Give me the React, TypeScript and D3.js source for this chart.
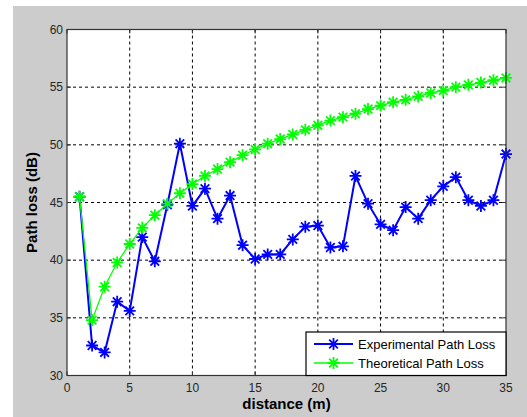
import React from "react";
import * as d3 from "d3";

const distances = [1,2,3,4,5,6,7,8,9,10,11,12,13,14,15,16,17,18,19,20,21,22,23,24,25,26,27,28,29,30,31,32,33,34,35];
const experimental = [45.5,32.6,32.0,36.4,35.6,42.0,39.9,44.8,50.1,44.7,46.2,43.6,45.6,41.3,40.1,40.5,40.5,41.8,42.9,43.0,41.1,41.2,47.3,44.9,43.1,42.6,44.6,43.6,45.2,46.4,47.2,45.2,44.7,45.2,49.2];
const theoretical = [45.5,34.8,37.7,39.8,41.4,42.8,43.9,44.9,45.8,46.6,47.3,47.9,48.5,49.1,49.6,50.1,50.5,50.9,51.3,51.7,52.1,52.4,52.7,53.1,53.4,53.7,53.9,54.2,54.5,54.7,55.0,55.2,55.4,55.6,55.8];
const xTicks = [0,5,10,15,20,25,30,35];
const yTicks = [30,35,40,45,50,55,60];
const seriesNames = ["Experimental Path Loss", "Theoretical Path Loss"];

const W = 527, H = 417;
const L = 67, R = 506, T = 29.5, B = 375.5;

function star(cx: number, cy: number, r: number) {
  const d = r * 0.72;
  return `M${cx - r},${cy}L${cx + r},${cy}M${cx},${cy - r}L${cx},${cy + r}M${cx - d},${cy - d}L${cx + d},${cy + d}M${cx - d},${cy + d}L${cx + d},${cy - d}`;
}

export default function App() {
  const x = d3.scaleLinear().domain([0, 35]).range([L, R]);
  const y = d3.scaleLinear().domain([30, 60]).range([B, T]);
  const line = d3.line<number>().x((_, i) => x(distances[i])).y((v) => y(v));
  const font = "Arial, 'Liberation Sans', sans-serif";
  const series = [
    { vals: experimental, color: "#0000ff", width: 2 },
    { vals: theoretical, color: "#00ff00", width: 1.3 },
  ];
  return (
    <svg width={W} height={H} style={{ position: "absolute", left: 0, top: 0 }}>
      <rect x={0} y={0} width={W} height={H} fill="#ffffff" />
      <rect x={13} y={6} width={W - 13} height={H - 6} fill="#cccccc" />
      <rect x={L} y={T} width={R - L} height={B - T} fill="#ffffff" />
      {xTicks.slice(1, -1).map((t) => (
        <line key={"gx" + t} x1={x(t)} x2={x(t)} y1={T} y2={B} stroke="#000" strokeWidth={1} strokeDasharray="3,3" />
      ))}
      {yTicks.slice(1, -1).map((t) => (
        <line key={"gy" + t} x1={L} x2={R} y1={y(t)} y2={y(t)} stroke="#000" strokeWidth={1} strokeDasharray="3,3" />
      ))}
      {series.map((s, k) => (
        <g key={k}>
          <path d={line(s.vals) || ""} fill="none" stroke={s.color} strokeWidth={s.width} />
          {s.vals.map((v, i) => (
            <path key={i} d={star(x(distances[i]), y(v), 6)} stroke={s.color} strokeWidth={1.8} fill="none" />
          ))}
        </g>
      ))}
      {xTicks.map((t) => (
        <g key={"tx" + t}>
          <line x1={x(t)} x2={x(t)} y1={B} y2={B - 4} stroke="#333" />
          <line x1={x(t)} x2={x(t)} y1={T} y2={T + 4} stroke="#333" />
          <text x={x(t)} y={B + 16} textAnchor="middle" fontFamily={font} fontSize={12} fill="#262626">{t}</text>
        </g>
      ))}
      {yTicks.map((t) => (
        <g key={"ty" + t}>
          <line x1={L} x2={L + 4} y1={y(t)} y2={y(t)} stroke="#333" />
          <line x1={R} x2={R - 4} y1={y(t)} y2={y(t)} stroke="#333" />
          <text x={L - 4} y={y(t) + 4} textAnchor="end" fontFamily={font} fontSize={12} fill="#262626">{t}</text>
        </g>
      ))}
      <rect x={L} y={T} width={R - L} height={B - T} fill="none" stroke="#333" strokeWidth={1.2} />
      <text x={(L + R) / 2} y={409} textAnchor="middle" fontFamily={font} fontSize={15} fontWeight="bold" fill="#000">distance (m)</text>
      <text transform={`translate(37,${(T + B) / 2}) rotate(-90)`} textAnchor="middle" fontFamily={font} fontSize={15} fontWeight="bold" fill="#000">Path loss (dB)</text>
      <g>
        <rect x={306} y={332} width={R - 306} height={B - 332} fill="#ffffff" stroke="#000" strokeWidth={1.2} />
        {series.map((s, k) => {
          const ly = 344 + k * 19;
          return (
            <g key={"lg" + k}>
              <line x1={314} x2={353} y1={ly} y2={ly} stroke={s.color} strokeWidth={s.width} />
              <path d={star(333.5, ly, 6)} stroke={s.color} strokeWidth={1.8} fill="none" />
              <text x={358} y={ly + 4.5} fontFamily={font} fontSize={13} fill="#000">{seriesNames[k]}</text>
            </g>
          );
        })}
      </g>
    </svg>
  );
}
